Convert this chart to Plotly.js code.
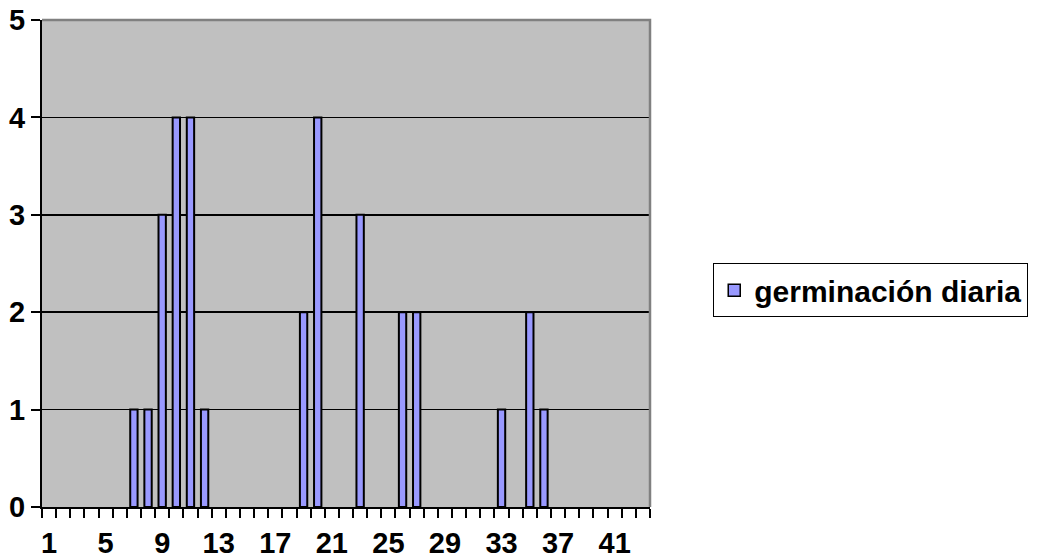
<!DOCTYPE html>
<html>
<head>
<meta charset="utf-8">
<script src="https://cdn.plot.ly/plotly-3.0.1.min.js"></script>
<style>html,body{margin:0;padding:0;background:#fff;}#chart{width:1040px;height:560px;}</style>
</head>
<body>
<div id="chart"></div>
<script>
// Data
var days = [1,2,3,4,5,6,7,8,9,10,11,12,13,14,15,16,17,18,19,20,21,22,23,24,25,26,27,28,29,30,31,32,33,34,35,36,37,38,39,40,41,42,43];
var germinacionDiaria = [0,0,0,0,0,0,1,1,3,4,4,1,0,0,0,0,0,0,2,4,0,0,3,0,0,2,2,0,0,0,0,0,1,0,2,1,0,0,0,0,0,0,0];
var xTickVals = [1,5,9,13,17,21,25,29,33,37,41];
var xTickText = ['1','5','9','13','17','21','25','29','33','37','41'];
var yTickVals = [0,1,2,3,4,5];
var seriesName = 'germinación diaria';

var fontFam = '"Liberation Sans", Arial, sans-serif';

// outline only on bars that have height (zero bars are invisible in the reference)
var outlineWidths = germinacionDiaria.map(function (v) { return v > 0 ? 2 : 0; });

var trace = {
  type: 'bar',
  x: days,
  y: germinacionDiaria,
  name: seriesName,
  width: 0.52,
  marker: {color: '#9999FF', line: {color: '#000000', width: outlineWidths}},
  showlegend: false
};

// legend entry (same series style, no marks of its own)
var legendEntry = {
  type: 'bar',
  x: [null],
  y: [null],
  name: seriesName,
  marker: {color: '#9999FF', line: {color: '#000000', width: 1.5}},
  showlegend: true,
  hoverinfo: 'skip'
};

var layout = {
  width: 1040,
  height: 560,
  margin: {l: 42, r: 387, t: 20, b: 53},
  paper_bgcolor: '#FFFFFF',
  plot_bgcolor: '#C0C0C0',
  font: {family: fontFam, color: '#000000', size: 29, weight: 'bold'},
  showlegend: true,
  legend: {
    x: 1.104, xanchor: 'left',
    y: 0.445, yanchor: 'middle',
    bgcolor: '#FFFFFF',
    bordercolor: '#000000',
    borderwidth: 1,
    font: {family: fontFam, size: 30, color: '#000000', weight: 'bold'},
    tracegroupgap: 0
  },
  xaxis: {
    range: [0.5, 43.5],
    tickmode: 'array',
    tickvals: xTickVals,
    ticktext: xTickText,
    ticks: 'outside',
    ticklen: 9,
    tickwidth: 2,
    tickcolor: 'rgba(0,0,0,0)',
    tickfont: {family: fontFam, size: 29, color: '#000000', weight: 'bold'},
    showgrid: false,
    zeroline: false,
    showline: true,
    linecolor: '#000000',
    linewidth: 2,
    minor: {tick0: 0.5, dtick: 1, ticks: 'outside', ticklen: 9, tickwidth: 2, tickcolor: '#000000', showgrid: false},
    fixedrange: true
  },
  yaxis: {
    range: [0, 5],
    tickmode: 'array',
    tickvals: yTickVals,
    ticks: 'outside',
    ticklen: 9,
    tickwidth: 2,
    tickcolor: '#000000',
    tickfont: {family: fontFam, size: 29, color: '#000000', weight: 'bold'},
    showgrid: true,
    gridcolor: '#000000',
    gridwidth: 1.5,
    zeroline: false,
    showline: true,
    linecolor: '#000000',
    linewidth: 2,
    fixedrange: true
  },
  shapes: [{
    type: 'path', xref: 'paper', yref: 'paper',
    path: 'M0,1H1V0',
    line: {color: '#808080', width: 2.5},
    layer: 'above'
  }],
  bargap: 0
};

Plotly.newPlot('chart', [trace, legendEntry], layout, {displayModeBar: false, staticPlot: true});
</script>
</body>
</html>
